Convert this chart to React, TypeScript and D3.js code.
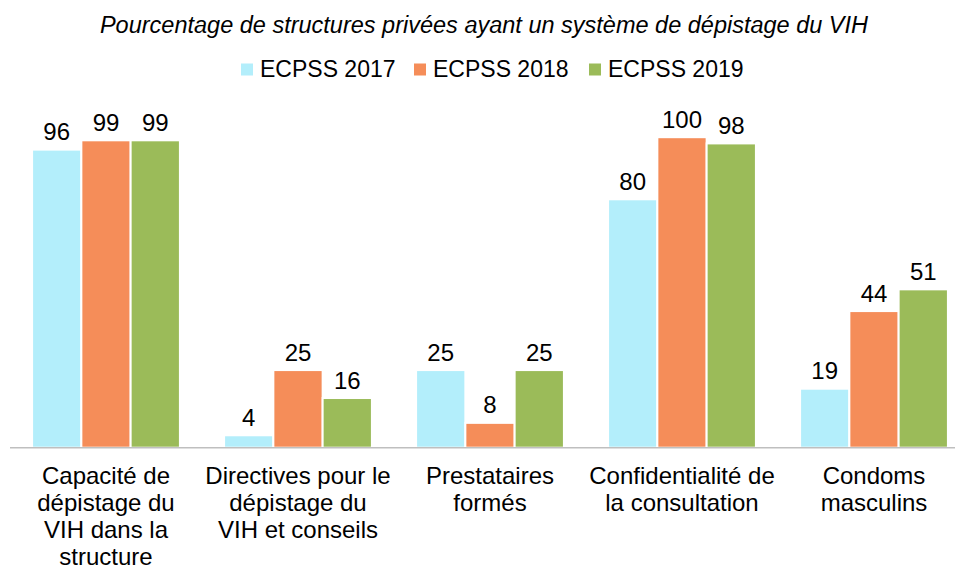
import React, { useEffect, useRef } from 'react';
import * as d3 from 'd3';

const title = 'Pourcentage de structures privées ayant un système de dépistage du VIH';
const series = ['ECPSS 2017', 'ECPSS 2018', 'ECPSS 2019'];
const colors = ['#b3eefb', '#f58d59', '#9bbb59'];
const categories = [
  ['Capacité de', 'dépistage du', 'VIH dans la', 'structure'],
  ['Directives pour le', 'dépistage du', 'VIH et conseils'],
  ['Prestataires', 'formés'],
  ['Confidentialité de', 'la consultation'],
  ['Condoms', 'masculins'],
];
const values2017 = [96, 4, 25, 80, 19];
const values2018 = [99, 25, 8, 100, 44];
const values2019 = [99, 16, 25, 98, 51];

const W = 955;
const H = 567;

const App: React.FC = () => {
  const svgRef = useRef<SVGSVGElement | null>(null);

  useEffect(() => {
    if (!svgRef.current) return;
    const svg = d3.select(svgRef.current);
    svg.selectAll('*').remove();

    const font = 'Liberation Sans, Arial, sans-serif';
    const baseY = 447.7;
    const cats = categories.map(c => c.join(' '));
    const allValues = [values2017, values2018, values2019];

    const x = d3.scaleBand().domain(cats).range([10, 970]).paddingInner(0.23).paddingOuter(0.115);
    const xs = d3.scaleBand().domain(series).range([0, x.bandwidth()]).padding(0);
    const y = d3.scaleLinear().domain([0, 100]).range([baseY, baseY - 310.5]);

    // title
    svg.append('text')
      .attr('x', 484)
      .attr('y', 32.5)
      .attr('text-anchor', 'middle')
      .style('font-family', font)
      .style('font-style', 'italic')
      .style('font-size', '23.5px')
      .attr('fill', '#000')
      .text(title);

    // legend
    const legendX = [241, 414, 589];
    series.forEach((s, i) => {
      svg.append('rect')
        .attr('x', legendX[i])
        .attr('y', 63.5)
        .attr('width', 12)
        .attr('height', 12)
        .attr('fill', colors[i]);
      svg.append('text')
        .attr('x', legendX[i] + 19)
        .attr('y', 76.7)
        .style('font-family', font)
        .style('font-size', '23px')
        .attr('fill', '#000')
        .text(s);
    });

    const g = svg.append('g');

    // bars
    cats.forEach((c, ci) => {
      series.forEach((s, si) => {
        const v = allValues[si][ci];
        const bx = (x(c) as number) + (xs(s) as number);
        g.append('rect')
          .attr('x', bx)
          .attr('y', y(v))
          .attr('width', xs.bandwidth())
          .attr('height', baseY - y(v))
          .attr('fill', colors[si])
          .attr('stroke', '#fff')
          .attr('stroke-width', 2);
        g.append('text')
          .attr('x', bx + xs.bandwidth() / 2)
          .attr('y', y(v) - 9.5)
          .attr('text-anchor', 'middle')
          .style('font-family', font)
          .style('font-size', '24px')
          .attr('fill', '#000')
          .text(v);
      });
    });

    // axis line
    g.append('line')
      .attr('x1', 10)
      .attr('x2', 970)
      .attr('y1', baseY)
      .attr('y2', baseY)
      .attr('stroke', '#bfbfbf')
      .attr('stroke-width', 1.5);

    // category labels
    categories.forEach((lines, ci) => {
      const cx = (x(cats[ci]) as number) + x.bandwidth() / 2;
      const t = g.append('text')
        .attr('text-anchor', 'middle')
        .style('font-family', font)
        .style('font-size', '24px')
        .attr('fill', '#000');
      lines.forEach((l, li) => {
        t.append('tspan')
          .attr('x', cx)
          .attr('y', 484 + li * 27)
          .text(l);
      });
    });
  }, []);

  return (
    <svg
      ref={svgRef}
      width={W}
      height={H}
      style={{ position: 'absolute', left: 0, top: 0, background: '#fff' }}
    />
  );
};

export default App;
